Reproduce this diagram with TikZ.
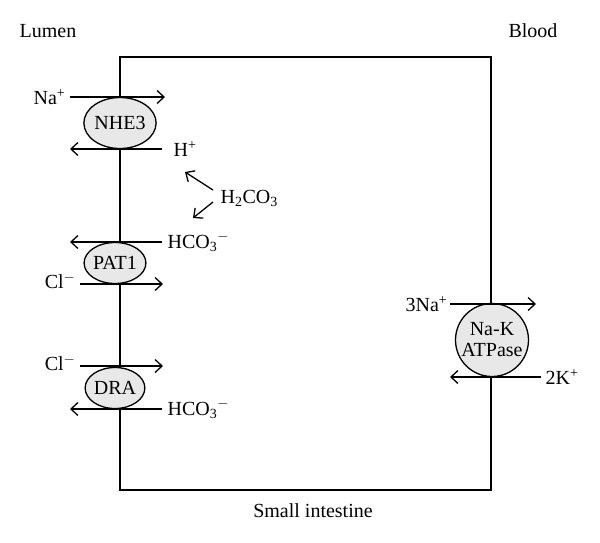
\documentclass[tikz,border=0pt]{standalone}
\usepackage{fontspec}
\setmainfont{Liberation Serif}
\usetikzlibrary{arrows.meta,shapes.geometric,positioning}

\tikzset{
  flow/.style={-{Straight Barb[length=7pt,width=13pt]}},
  carrier/.style={draw, ellipse, fill=gray!18, inner sep=0pt},
  ion/.style={inner sep=1pt}
}

\begin{document}
\begin{tikzpicture}[x=1pt, y=-1pt, line width=1.3pt, font=\fontsize{20}{22}\selectfont]

  \useasboundingbox (0,0) rectangle (600,542);

  % === Cell ===
  \draw (120,57) rectangle (491,490);
  \node (lumen) at (48,31) {Lumen};
  \node (blood) at (533,31) {Blood};
  \node (cell) at (313,511) {Small intestine};

  % === Carriers ===
  \node[carrier, minimum width=63, minimum height=51] (nhe) at (120,123) {NHE3};
  \node[carrier, minimum width=52, minimum height=41] (pat) at (115,263) {PAT1};
  \node[carrier, minimum width=52, minimum height=41] (dra) at (115,388) {DRA};
  \node[carrier, circle, minimum size=73, align=center, font=\fontsize{20}{21}\selectfont] (nak) at (492,340) {Na-K\\ATPase};

  % === NHE3 ===
  \coordinate (naA) at (70,97);  \coordinate (naB) at (165,97);
  \coordinate (hA)  at (162,149); \coordinate (hB) at (70,149);
  \draw[flow] (naA) -- (naB);
  \draw[flow] (hA) -- (hB);
  \node[ion, left=3pt of naA] (na) {Na\textsuperscript{+}};
  \node[ion, right=10pt of hA] (h) {H\textsuperscript{+}};

  % === Carbonic acid ===
  \node[ion, anchor=west] (hco) at (219,198) {H\textsubscript{2}CO\textsubscript{3}};
  \coordinate (upA) at (213,190); \coordinate (upB) at (185,172);
  \coordinate (dnA) at (213,202); \coordinate (dnB) at (193,218);
  \draw[flow] (upA) -- (upB);
  \draw[flow] (dnA) -- (dnB);

  % === PAT1 ===
  \coordinate (bA) at (162,242); \coordinate (bB) at (70,242);
  \coordinate (cA) at (80,284);  \coordinate (cB) at (163,284);
  \draw[flow] (bA) -- (bB);
  \draw[flow] (cA) -- (cB);
  \node[ion, right=4pt of bA] (bic) {HCO\textsubscript{3}\textsuperscript{$-$}};
  \node[ion, left=3pt of cA, yshift=3pt] (cl) {Cl\textsuperscript{$-$}};

  % === DRA ===
  \coordinate (dA) at (80,366);  \coordinate (dB) at (163,366);
  \coordinate (eA) at (162,409); \coordinate (eB) at (70,409);
  \draw[flow] (dA) -- (dB);
  \draw[flow] (eA) -- (eB);
  \node[ion, left=3pt of dA, yshift=3pt] (cl2) {Cl\textsuperscript{$-$}};
  \node[ion, right=4pt of eA] (bic2) {HCO\textsubscript{3}\textsuperscript{$-$}};

  % === Na-K ATPase ===
  \coordinate (sA) at (450,304); \coordinate (sB) at (536,304);
  \coordinate (kA) at (541,377); \coordinate (kB) at (450,377);
  \draw[flow] (sA) -- (sB);
  \draw[flow] (kA) -- (kB);
  \node[ion, left=1pt of sA] (na3) {3Na\textsuperscript{+}};
  \node[ion, right=3pt of kA] (k2) {2K\textsuperscript{+}};

\end{tikzpicture}
\end{document}
